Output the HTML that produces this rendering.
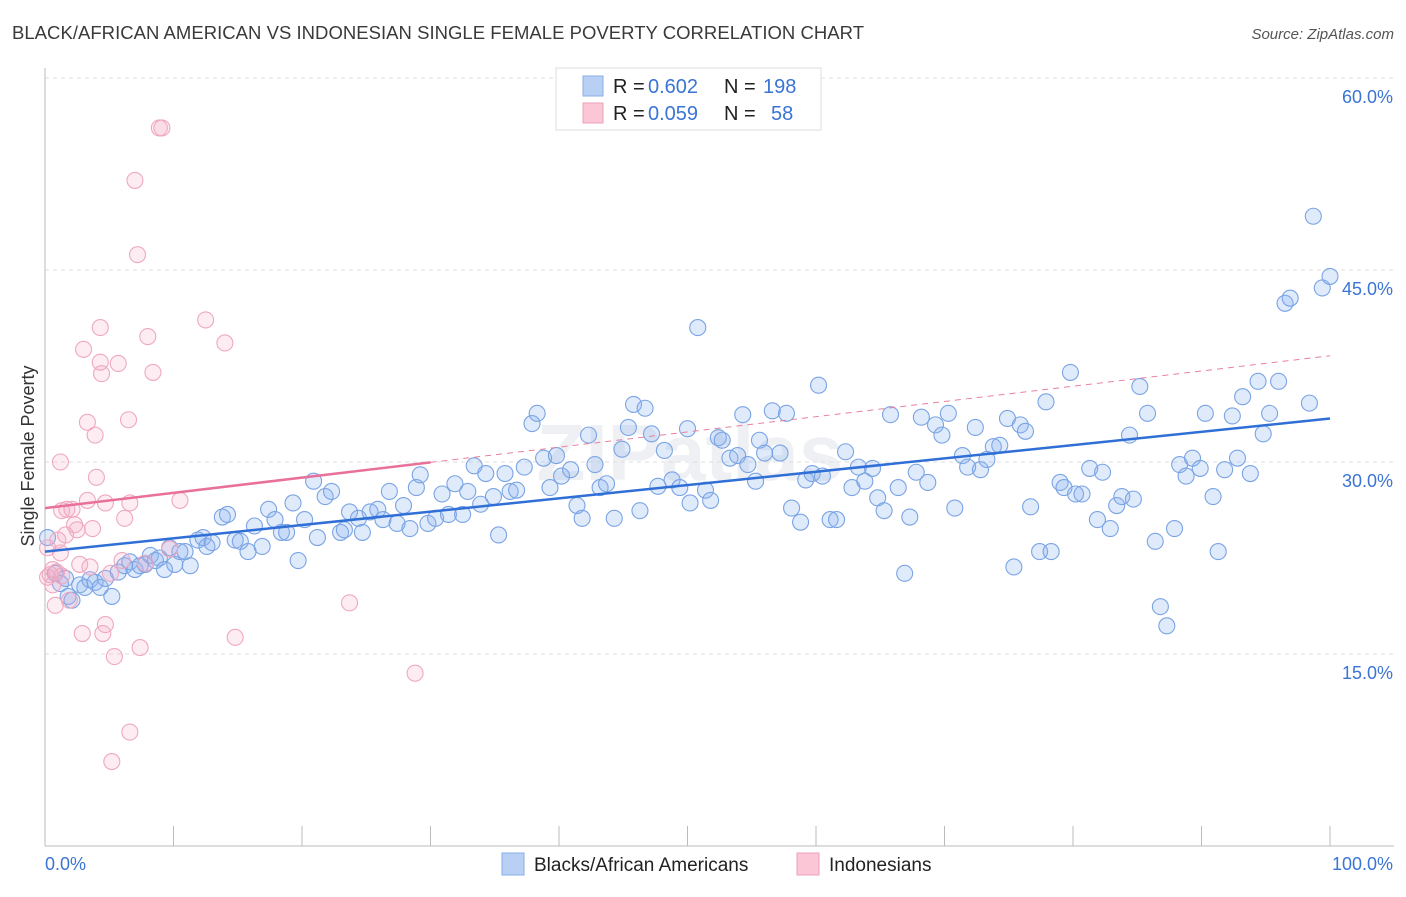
<!DOCTYPE html>
<html><head><meta charset="utf-8"><style>
body{margin:0;background:#fff;font-family:"Liberation Sans",sans-serif;}
svg text{font-family:"Liberation Sans",sans-serif;}
</style></head><body>
<svg id="c" width="1406" height="892" viewBox="0 0 1406 892">
<text x="12" y="39" font-size="18.5" fill="#3a3a3a" textLength="852">BLACK/AFRICAN AMERICAN VS INDONESIAN SINGLE FEMALE POVERTY CORRELATION CHART</text>
<text x="1394" y="39" font-size="15" fill="#555" font-style="italic" text-anchor="end">Source: ZipAtlas.com</text>
<text x="34" y="456" font-size="18" fill="#333" text-anchor="middle" transform="rotate(-90 34 456)">Single Female Poverty</text>
<text x="690" y="480" font-size="80" fill="#eef0f4" text-anchor="middle" font-weight="bold">ZIPatlas</text>
<g id="grid"></g><g id="marks"></g>
<g>
<rect x="556" y="68" width="265" height="62" fill="#fff" stroke="#ddd"/>
<rect x="583" y="76" width="20" height="20" fill="#b8d0f4" stroke="#88aee6"/>
<rect x="583" y="103" width="20" height="20" fill="#fbc6d6" stroke="#eda2ba"/>
<text x="613" y="93" font-size="20" fill="#222">R =</text>
<text x="648" y="93" font-size="20" fill="#3a74d4">0.602</text>
<text x="724" y="93" font-size="20" fill="#222">N =</text>
<text x="763" y="93" font-size="20" fill="#3a74d4">198</text>
<text x="613" y="120" font-size="20" fill="#222">R =</text>
<text x="648" y="120" font-size="20" fill="#3a74d4">0.059</text>
<text x="724" y="120" font-size="20" fill="#222">N =</text>
<text x="771" y="120" font-size="20" fill="#3a74d4">58</text>
</g>
<g>
<rect x="502" y="853" width="22" height="22" fill="#b8d0f4" stroke="#88aee6"/>
<text x="534" y="871" font-size="19" fill="#222">Blacks/African Americans</text>
<rect x="797" y="853" width="22" height="22" fill="#fbc6d6" stroke="#eda2ba"/>
<text x="829" y="871" font-size="19" fill="#222">Indonesians</text>
</g>
</svg>
<script>
const xTicks=[0,10,20,30,40,50,60,70,80,90,100];
const yTicks=[15,30,45,60];
const blueX=[0.2,0.8,1.2,1.6,1.8,2.1,2.7,3.1,3.5,3.9,4.3,4.7,5.2,5.7,6.2,6.6,7.0,7.4,7.8,8.2,8.6,8.9,9.3,9.7,10.1,10.5,10.9,11.3,11.9,12.3,12.6,13.0,13.8,14.2,14.8,15.2,15.8,16.3,16.9,17.4,17.9,18.4,18.8,19.3,19.7,20.2,20.9,21.2,21.8,22.3,23.0,23.3,23.7,24.4,24.7,25.3,25.9,26.3,26.8,27.4,27.9,28.4,28.9,29.2,29.8,30.4,30.9,31.4,31.9,32.5,32.9,33.4,33.9,34.3,34.9,35.3,35.8,36.2,36.7,37.3,37.9,38.3,38.8,39.3,39.8,40.2,40.9,41.4,41.8,42.3,42.8,43.2,43.7,44.3,44.9,45.4,45.8,46.3,46.7,47.2,47.7,48.2,48.8,49.4,50.0,50.2,50.8,51.4,51.8,52.4,52.7,53.3,53.9,54.3,54.7,55.3,55.6,56.0,56.6,57.2,57.7,58.1,58.8,59.2,59.7,60.2,60.5,61.1,61.6,62.3,62.8,63.3,63.8,64.4,64.8,65.3,65.8,66.4,66.9,67.3,67.8,68.2,68.7,69.3,69.8,70.3,70.8,71.4,71.8,72.4,72.8,73.3,73.8,74.3,74.9,75.4,75.9,76.3,76.7,77.4,77.9,78.3,79.0,79.3,79.8,80.2,80.7,81.3,81.9,82.3,82.9,83.4,83.8,84.4,84.7,85.2,85.8,86.4,86.8,87.3,87.9,88.3,88.8,89.3,89.9,90.3,90.9,91.3,91.8,92.4,92.8,93.2,93.8,94.4,94.8,95.3,96.0,96.5,96.9,98.4,98.7,99.4,100];
const blueY=[24.1,21.3,20.5,20.9,19.5,19.2,20.4,20.2,20.8,20.6,20.2,20.9,19.5,21.4,21.9,22.2,21.6,21.9,22.0,22.7,22.3,22.5,21.6,23.3,22.0,23.0,23.0,21.9,23.9,24.1,23.4,23.7,25.7,25.9,23.9,23.8,23.0,25.0,23.4,26.3,25.5,24.5,24.5,26.8,22.3,25.5,28.5,24.1,27.3,27.7,24.5,24.7,26.1,25.6,24.5,26.1,26.3,25.5,27.7,25.2,26.6,24.8,28.0,29.0,25.2,25.6,27.5,25.9,28.3,25.9,27.7,29.7,26.7,29.1,27.3,24.3,29.1,27.7,27.8,29.6,33.0,33.8,30.3,28.0,30.5,28.9,29.4,26.6,25.6,32.1,29.8,28.0,28.3,25.6,31.0,32.7,34.5,26.2,34.2,32.2,28.1,30.9,28.6,28.0,32.6,26.8,40.5,27.8,27.0,31.9,31.7,30.3,30.5,33.7,29.8,28.5,31.7,30.7,34.0,30.7,33.8,26.4,25.3,28.6,29.1,36.0,28.9,25.5,25.5,30.8,28.0,29.6,28.5,29.5,27.2,26.2,33.7,28.0,21.3,25.7,29.2,33.5,28.4,32.9,32.1,33.8,26.4,30.5,29.6,32.7,29.4,30.2,31.2,31.3,33.4,21.8,32.9,32.4,26.5,23.0,34.7,23.0,28.4,28.0,37.0,27.5,27.5,29.5,25.5,29.2,24.8,26.6,27.3,32.1,27.1,35.9,33.8,23.8,18.7,17.2,24.8,29.8,28.9,30.3,29.5,33.8,27.3,23.0,29.4,33.6,30.3,35.1,29.1,36.3,32.2,33.8,36.3,42.4,42.8,34.6,49.2,43.6,44.5];
const pinkX=[0.2,0.4,0.6,0.8,0.9,1.2,1.3,1.6,1.7,1.9,2.1,2.3,2.5,2.7,2.9,3.0,3.3,3.3,3.5,3.7,3.9,4.0,4.3,4.3,4.4,4.5,4.7,4.7,5.1,5.4,5.7,6.0,6.2,6.5,6.6,6.6,7.0,7.2,7.4,7.8,8.0,8.4,8.9,9.1,9.7,10.5,12.5,14.0,14.8,23.7,28.8,5.2,1.2,1.3,0.2,0.6,1.0];
const pinkY=[23.3,21.2,21.6,18.8,21.4,22.9,26.2,24.3,26.3,19.2,26.3,25.1,24.7,22.0,16.6,38.8,33.1,27.0,21.8,24.8,32.1,28.8,40.5,37.8,36.9,16.6,26.8,17.3,21.3,14.8,37.7,22.3,25.6,33.3,26.8,8.9,52.0,46.2,15.5,22.1,39.8,37.0,56.1,56.1,23.2,27.0,41.1,39.3,16.3,19.0,13.5,6.6,30.0,21.1,21.0,20.4,23.9];
const blueFit=[23.0,33.4];
const pinkFit=[26.4,38.3];
const pinkSolidEnd=30;

const NS='http://www.w3.org/2000/svg';
const X=v=>45+v*12.85, Y=v=>846-v*12.8;
function mk(t,a,p){const e=document.createElementNS(NS,t);for(const k in a)e.setAttribute(k,a[k]);p.appendChild(e);return e;}
const g=document.getElementById('grid'), m=document.getElementById('marks');
yTicks.forEach(t=>{
 const l=mk('line',{x1:45,x2:1394,y1:Y(t),y2:Y(t),stroke:'#ddd','stroke-dasharray':'4,4'},g);
 
 
 const tx=mk('text',{x:1393,y:Y(t)+25,'font-size':18,fill:'#3a74d4','text-anchor':'end'},g);tx.textContent=t.toFixed(1)+'%';
 
 
});
mk('line',{x1:45,x2:45,y1:68,y2:846,stroke:'#bbb'},g);
mk('line',{x1:45,x2:1394,y1:846,y2:846,stroke:'#bbb'},g);
xTicks.forEach(t=>{
 const l=mk('line',{x1:X(t),x2:X(t),y1:826,y2:846,stroke:'#bbb'},g);
 
 
});
const xl0=mk('text',{x:45,y:870,'font-size':18,fill:'#3a74d4'},g);xl0.textContent=xTicks[0].toFixed(1)+'%';


const xl1=mk('text',{x:1393,y:870,'font-size':18,fill:'#3a74d4','text-anchor':'end'},g);xl1.textContent=xTicks[xTicks.length-1].toFixed(1)+'%';


blueX.forEach((x,i)=>{
 const c=mk('circle',{cx:X(x),cy:Y(blueY[i]),r:8,fill:'rgba(140,180,240,0.28)',stroke:'#7aa4e4','stroke-width':1.1},m);
 
 
});
pinkX.forEach((x,i)=>{
 const c=mk('circle',{cx:X(x),cy:Y(pinkY[i]),r:8,fill:'rgba(245,170,195,0.22)',stroke:'#eea8c0','stroke-width':1.1},m);
 
 
});
const pAt=x=>pinkFit[0]+(pinkFit[1]-pinkFit[0])*x/100;
const pd=mk('line',{x1:X(pinkSolidEnd),y1:Y(pAt(pinkSolidEnd)),x2:X(100),y2:Y(pinkFit[1]),stroke:'#e8809f','stroke-width':1,'stroke-dasharray':'6,5'},m);


const ps=mk('line',{x1:X(0),y1:Y(pinkFit[0]),x2:X(pinkSolidEnd),y2:Y(pAt(pinkSolidEnd)),stroke:'#e8709a','stroke-width':2.5},m);


const bl=mk('line',{x1:X(0),y1:Y(blueFit[0]),x2:X(100),y2:Y(blueFit[1]),stroke:'#2f6fd6','stroke-width':2.5},m);


</script>
</body></html>
